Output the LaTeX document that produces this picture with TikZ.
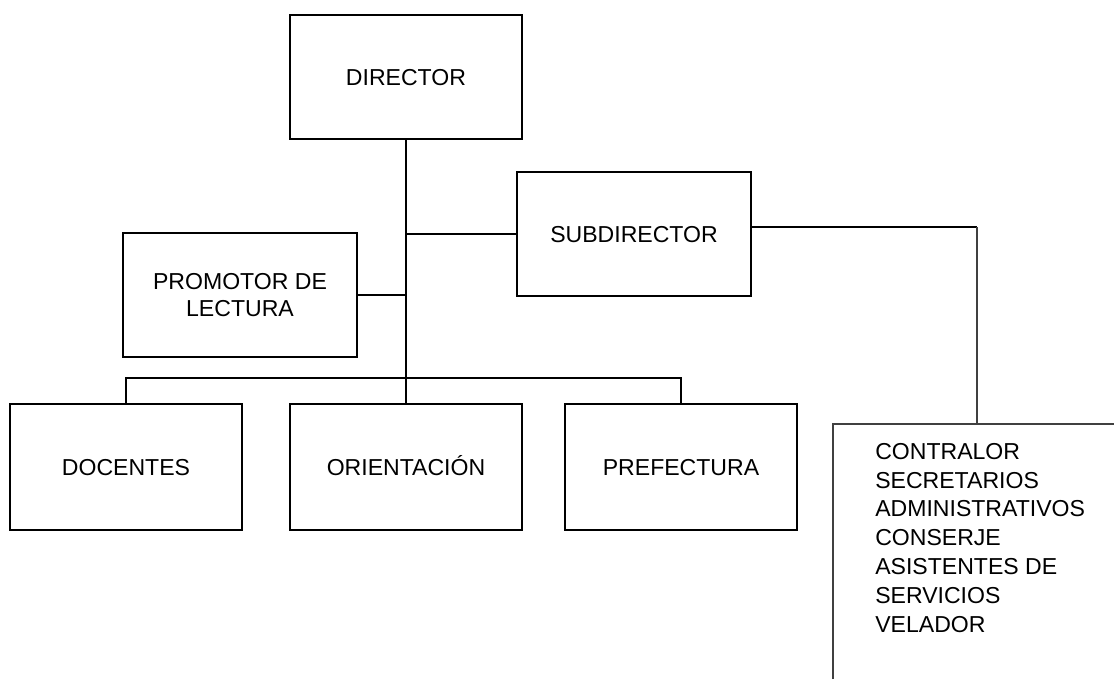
\documentclass[tikz,border=0pt]{standalone}
\usepackage{fontspec}
\setmainfont{Liberation Sans}
\begin{document}
\begin{tikzpicture}[x=0.75pt,y=-0.75pt,
		cargo/.style={draw, line width=1.5pt, minimum width=174pt, minimum height=93pt, align=center, inner sep=0pt, font=\fontsize{17.3}{20.5}\selectfont},
		unalinea/.style={text height=12.4pt, text depth=0pt},
		linea/.style={line width=1.5pt},
		fino/.style={line width=0.9pt, draw=black!75}]
		\useasboundingbox (0,0) rectangle (1114,679);
		\node [cargo, unalinea] (director) at (406,77) {DIRECTOR};
		\node [cargo, unalinea, minimum width=175.5pt] (subdirector) at (634,234) {SUBDIRECTOR};
		\node [cargo, minimum width=175.5pt] (promotor) at (240,295) {PROMOTOR DE\\LECTURA};
		\node [cargo, unalinea, minimum height=94pt] (docentes) at (126,467) {DOCENTES};
		\node [cargo, unalinea, minimum height=94pt] (orientacion) at (406,467) {ORIENTACIÓN};
		\node [cargo, unalinea, minimum height=94pt] (prefectura) at (681,467) {PREFECTURA};
		\coordinate (bus) at (406,378);
		\coordinate (codo) at (977,227);
		\coordinate (marco) at (833,424);
		\node [anchor=north west, align=left, inner sep=0pt, font=\fontsize{17.3}{21.6}\selectfont] (personal) at (875,443) {CONTRALOR\\SECRETARIOS\\ADMINISTRATIVOS\\CONSERJE\\ASISTENTES DE\\SERVICIOS\\VELADOR};
		\draw [fino] (marco |- 0,679) -- (marco) -- (1114,424);
		\draw [linea] (director.south) -- (orientacion.north);
		\draw [linea] (promotor.east) -- (promotor.east -| director.south);
		\draw [linea] (subdirector.west) -- (subdirector.west -| director.south);
		\draw [linea] (docentes.north) -- (docentes.north |- bus) -- (prefectura.north |- bus) -- (prefectura.north);
		\draw [linea] (subdirector.east |- codo) -- (codo);
		\draw [fino] (codo) -- (codo |- marco);
	\end{tikzpicture}
\end{document}
